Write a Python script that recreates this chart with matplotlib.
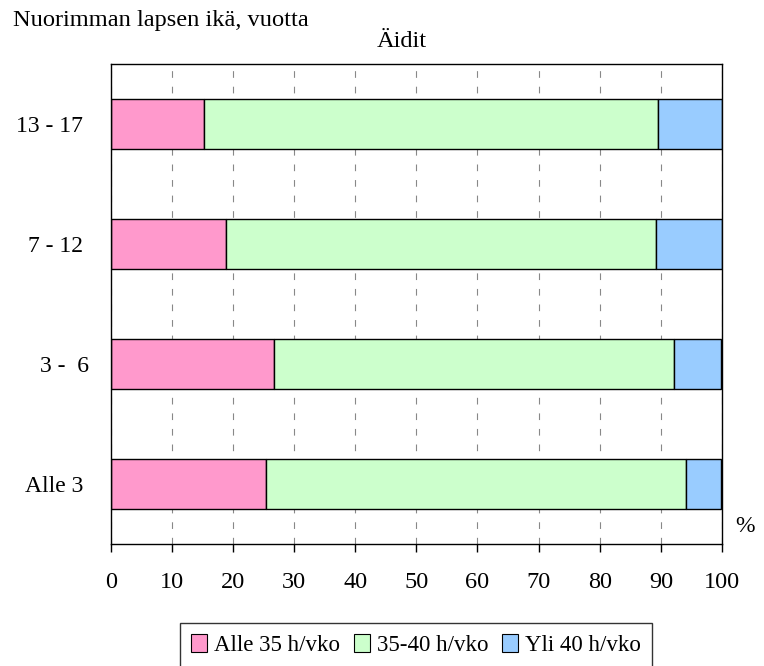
import matplotlib.pyplot as plt
from matplotlib.transforms import ScaledTranslation

plt.rcParams['font.family'] = ['Liberation Serif', 'DejaVu Serif']

# age groups of the youngest child, bottom to top
groups = ['Alle 3', '3 -  6', '7 - 12', '13 - 17']
under_35 = [25.4, 26.7, 18.9, 15.2]
h35_40 = [68.7, 65.4, 70.3, 74.3]
over_40 = [5.8, 7.8, 10.8, 10.5]
series_names = ['Alle 35 h/vko', '35-40 h/vko', 'Yli 40 h/vko']
colors = ['#FF99CC', '#CCFFCC', '#99CCFF']

W, H = 764, 666
FS = 16.5


def main():
    fig = plt.figure(figsize=(W / 100, H / 100), dpi=100)
    ax = fig.add_axes([110.7 / W, 1 - 544.3 / H, (722 - 110.7) / W, 480 / H])

    y = list(range(len(groups)))
    left = [0] * len(groups)
    for vals, name, col in zip([under_35, h35_40, over_40], series_names, colors):
        ax.barh(y, vals, left=left, height=0.415, color=col,
                edgecolor='black', linewidth=1, label=name)
        left = [a + b for a, b in zip(left, vals)]

    ax.set_xlim(0, 100)
    ax.set_ylim(-0.5, 3.5)
    ax.set_xticks(range(0, 101, 10))
    ax.set_yticks(y)
    ax.set_yticklabels(groups)
    ax.tick_params(axis='x', direction='out', length=6, width=1, pad=14, labelsize=FS + 1)
    ax.tick_params(axis='y', length=0, pad=20, labelsize=FS + 0.5)
    ax.set_axisbelow(True)
    ax.xaxis.grid(True, color='#888888', linestyle=(0, (6, 8)), linewidth=0.8)
    for s in ax.spines.values():
        s.set_color('black')
        s.set_linewidth(1)

    # the "3 - 6" label sits a little further right in the original
    for lab in ax.get_yticklabels():
        if lab.get_text() == '3 -  6':
            lab.set_transform(lab.get_transform() + ScaledTranslation(6 / 100, 0, fig.dpi_scale_trans))

    fig.text(12.7 / W, 1 - 20.7 / H, 'Nuorimman lapsen ikä, vuotta', ha='left', va='center', fontsize=17.6)
    fig.text(401.7 / W, 1 - 41.7 / H, 'Äidit', ha='center', va='center', fontsize=17.6)
    fig.text(745 / W, 1 - 527 / H, '%', ha='center', va='center', fontsize=17)

    leg = fig.legend(loc='upper center', bbox_to_anchor=(416 / W, 1 - 623 / H), ncol=3,
                     frameon=True, fancybox=False, edgecolor='black', fontsize=FS,
                     handlelength=0.7, handleheight=0.8, handletextpad=0.3,
                     columnspacing=0.6, borderpad=0.5, borderaxespad=0)
    leg.get_frame().set_linewidth(1)
    for h in leg.legend_handles:
        h.set_linewidth(0.8)

    fig.savefig('out.png', dpi=100)


if __name__ == '__main__':
    main()
